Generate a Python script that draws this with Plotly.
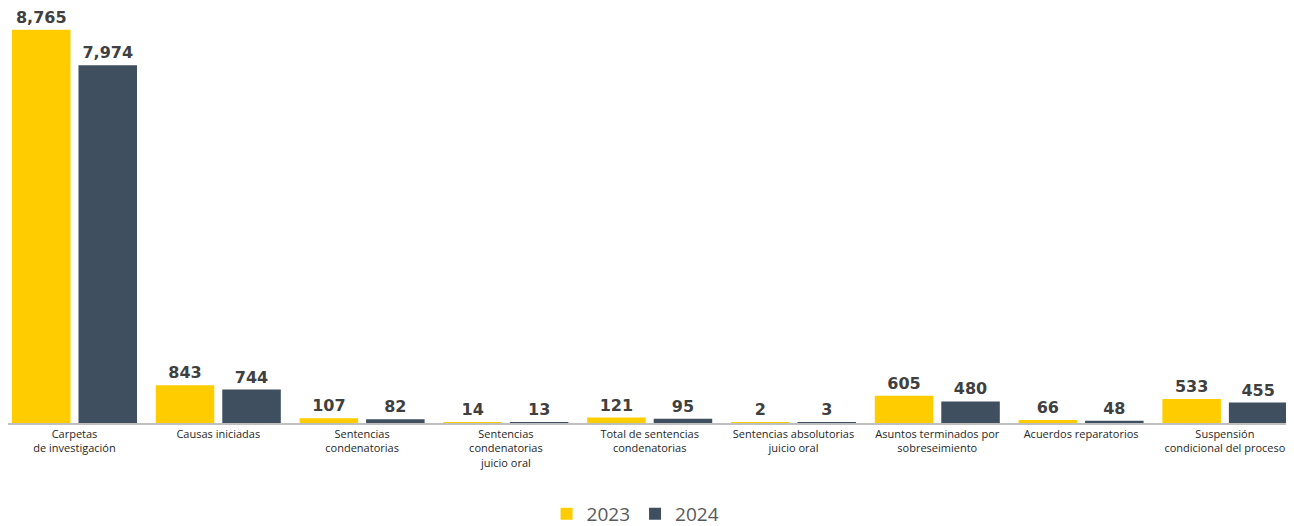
import plotly.graph_objects as go

categories = [
    "Carpetas<br>de investigación",
    "Causas iniciadas",
    "Sentencias<br>condenatorias",
    "Sentencias<br>condenatorias<br>juicio oral",
    "Total de sentencias<br>condenatorias",
    "Sentencias absolutorias<br>juicio oral",
    "Asuntos terminados por<br>sobreseimiento",
    "Acuerdos reparatorios",
    "Suspensión<br>condicional del proceso",
]
values_2023 = [8765, 843, 107, 14, 121, 2, 605, 66, 533]
values_2024 = [7974, 744, 82, 13, 95, 3, 480, 48, 455]

label_font = dict(family="DejaVu Sans", size=16, color="#404040", weight="bold")

fig = go.Figure()
fig.add_trace(go.Bar(
    x=categories, y=values_2023, name="2023",
    marker=dict(color="#FFCC00", line=dict(width=0)),
    text=[f"{v:,}" for v in values_2023], textposition="outside",
    textfont=label_font, cliponaxis=False,
))
fig.add_trace(go.Bar(
    x=categories, y=values_2024, name="2024",
    marker=dict(color="#3F4F5F", line=dict(width=0)),
    text=[f"{v:,}" for v in values_2024], textposition="outside",
    textfont=label_font, cliponaxis=False,
))

fig.update_layout(
    width=1286, height=518,
    margin=dict(l=0, r=0, t=0, b=103, autoexpand=False),
    paper_bgcolor="white", plot_bgcolor="white",
    barmode="group", bargap=0.075, bargroupgap=0.12,
    font=dict(family="Open Sans", size=11, color="#1F1F1F"),
    xaxis=dict(
        range=[-0.4624, 8.4806],
        showline=True, linecolor="#BFBFBF", linewidth=1.5,
        ticks="", tickfont=dict(family="Open Sans", size=11, color="#1F1F1F"),
        showgrid=False, automargin=False,
    ),
    yaxis=dict(range=[0, 9250], visible=False, showgrid=False, zeroline=False,
               automargin=False),
    legend=dict(
        orientation="h", x=0.488, xanchor="center", y=-0.219, yanchor="middle",
        font=dict(family="Open Sans", size=19, color="#595959"),
        itemwidth=30, traceorder="normal",
    ),
)

fig.write_html("out.html")
